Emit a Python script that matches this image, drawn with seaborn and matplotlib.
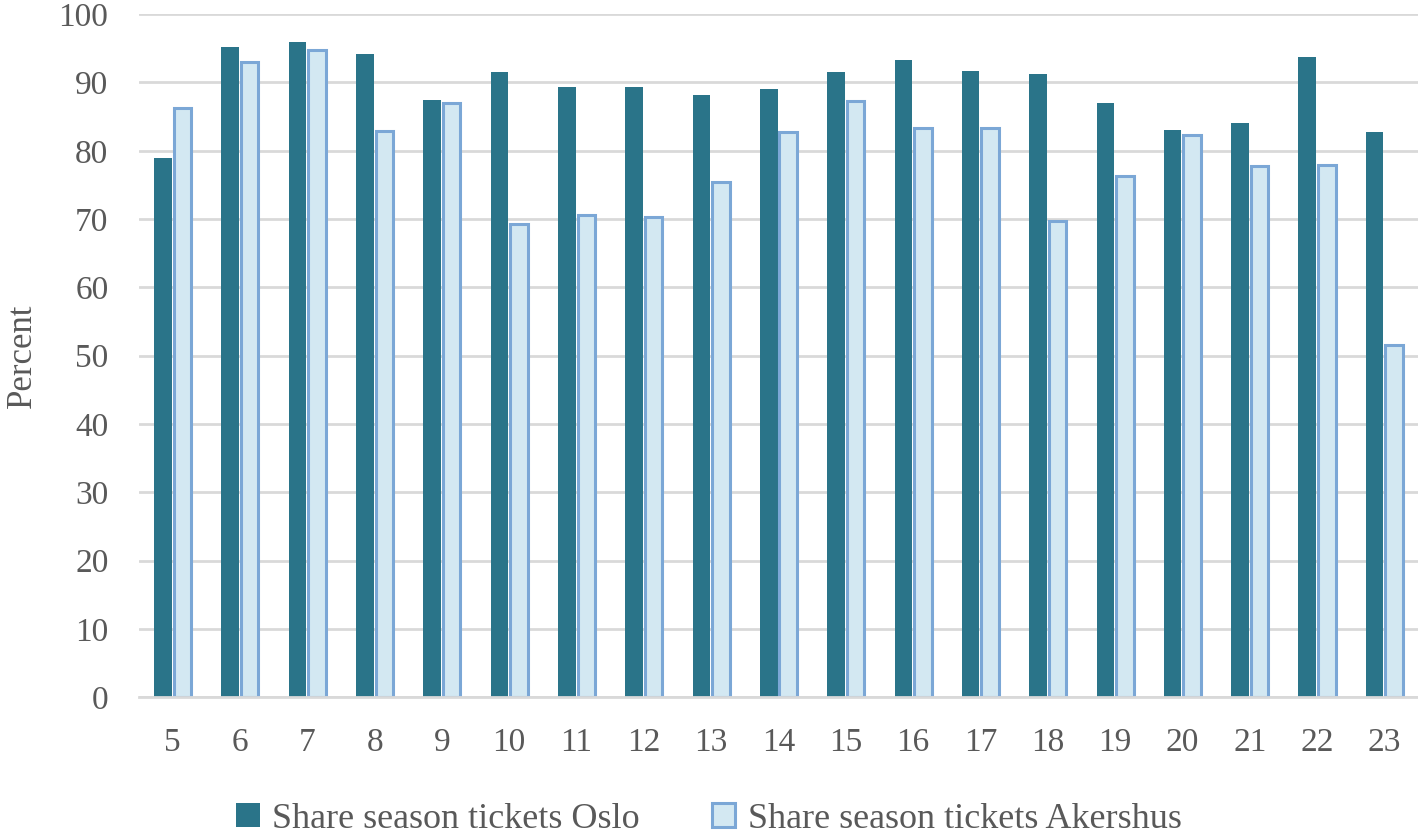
import pandas as pd
import matplotlib
matplotlib.use("Agg")
import matplotlib.pyplot as plt
import seaborn as sns

# Andel periodebilletter per time (Oslo vs Akershus)
hours = [5, 6, 7, 8, 9, 10, 11, 12, 13, 14, 15, 16, 17, 18, 19, 20, 21, 22, 23]
oslo = [78.9, 95.2, 95.9, 94.2, 87.5, 91.5, 89.3, 89.3, 88.2, 89.0,
        91.5, 93.3, 91.7, 91.3, 87.0, 83.0, 84.0, 93.7, 82.8]
akershus = [86.2, 93.0, 94.8, 82.9, 87.0, 69.3, 70.6, 70.3, 75.4, 82.7,
            87.3, 83.3, 83.4, 69.7, 76.3, 82.3, 77.8, 77.9, 51.5]
series = ["Share season tickets Oslo", "Share season tickets Akershus"]

df = pd.DataFrame({
    "hour": [str(h) for h in hours] * 2,
    "value": oslo + akershus,
    "series": [series[0]] * len(hours) + [series[1]] * len(hours),
})

sns.set_style("white")
plt.rcParams["font.family"] = ["Liberation Serif", "DejaVu Serif"]
text_col = "#595959"
grid_col = "#D9D9D9"

fig = plt.figure(figsize=(14.18, 8.35), dpi=100)
ax = fig.add_axes([0.098, 0.165, 0.902, 0.818])

sns.barplot(data=df, x="hour", y="value", hue="series",
            palette={series[0]: "#2A7489", series[1]: "#D3E8F2"},
            saturation=1, width=0.58, gap=0.1, ax=ax, legend=False)

for p in ax.containers[0]:
    p.set_edgecolor("#2A7489")
    p.set_linewidth(0)
for p in ax.containers[1]:
    p.set_edgecolor("#7BA7D6")
    p.set_linewidth(2.2)

ax.set_ylim(0, 100)
ax.set_yticks(range(0, 101, 10))
ax.set_xlim(-0.5, len(hours) - 0.5)
ax.yaxis.grid(True, color=grid_col, linewidth=2)
ax.set_axisbelow(True)
for s in ["top", "right", "left"]:
    ax.spines[s].set_visible(False)
ax.spines["bottom"].set_color(grid_col)
ax.spines["bottom"].set_linewidth(2)

ax.tick_params(axis="both", length=0, labelsize=24, labelcolor=text_col)
ax.tick_params(axis="y", pad=22)
ax.tick_params(axis="x", pad=22)
ax.set_xlabel("")
ax.set_ylabel("Percent", fontsize=25, color=text_col, labelpad=14)

ax.legend(handles=[ax.containers[0], ax.containers[1]], labels=series,
          loc="lower center", bbox_to_anchor=(0.5, -0.04),
          bbox_transform=fig.transFigure, ncol=2, frameon=False,
          fontsize=26, labelcolor=text_col, handlelength=0.65,
          handleheight=0.65, handletextpad=0.35, columnspacing=2.0)

fig.savefig("out.png", dpi=100)
